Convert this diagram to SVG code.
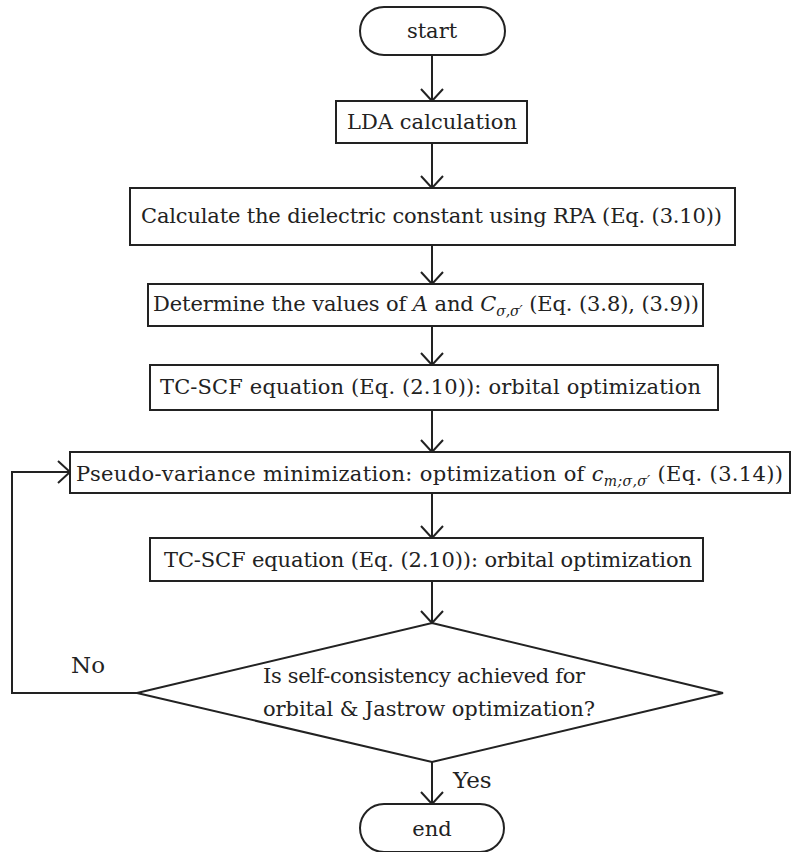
<svg xmlns="http://www.w3.org/2000/svg" width="798" height="852" viewBox="0 0 798 852">
<style>
.box{fill:#fff;stroke:#222;stroke-width:2}
.ln{fill:none;stroke:#222;stroke-width:2}
.t{font-family:"DejaVu Serif","Liberation Serif",serif;font-size:21px;fill:#222}
.lbl{font-size:23px}
.i{font-style:italic}
.s{font-size:14px;font-style:italic}
</style>
<defs>
<marker id="ah" viewBox="-13 -12 15 24" markerWidth="15" markerHeight="24" refX="0" refY="0" orient="auto" markerUnits="userSpaceOnUse">
<path d="M-12,-11 L0,0 L-12,11" fill="none" stroke="#222" stroke-width="2"/>
</marker>
</defs>
<g id="connectors">
<line class="ln" x1="432" y1="55" x2="432" y2="101" marker-end="url(#ah)"/>
<line class="ln" x1="432" y1="143" x2="432" y2="188" marker-end="url(#ah)"/>
<line class="ln" x1="432" y1="245" x2="432" y2="284" marker-end="url(#ah)"/>
<line class="ln" x1="432" y1="326" x2="432" y2="365" marker-end="url(#ah)"/>
<line class="ln" x1="432" y1="410" x2="432" y2="452" marker-end="url(#ah)"/>
<line class="ln" x1="432" y1="493" x2="432" y2="538" marker-end="url(#ah)"/>
<line class="ln" x1="432" y1="581" x2="432" y2="623" marker-end="url(#ah)"/>
<line class="ln" x1="432" y1="762" x2="432" y2="804" marker-end="url(#ah)"/>
<polyline class="ln" points="137,693 12,693 12,472 70,472" marker-end="url(#ah)"/>
<text class="t lbl" x="71" y="673">No</text>
<text class="t lbl" x="453" y="788">Yes</text>
</g>
<g id="start">
<rect class="box" x="360" y="7" width="145" height="48" rx="24"/>
<text class="t" x="432" y="38" text-anchor="middle">start</text>
</g>
<g id="lda">
<rect class="box" x="336" y="101" width="191" height="42"/>
<text class="t" x="347" y="129" textLength="170">LDA calculation</text>
</g>
<g id="calc">
<rect class="box" x="130" y="188" width="605" height="57"/>
<text class="t" x="141" y="223" textLength="581">Calculate the dielectric constant using RPA (Eq. (3.10))</text>
</g>
<g id="determine">
<rect class="box" x="148" y="284" width="555" height="42"/>
<text class="t" x="153" y="311" textLength="546">Determine the values of <tspan class="i">A</tspan> and <tspan class="i">C</tspan><tspan class="s" dy="5">σ,σ′</tspan><tspan dy="-5"> (Eq. (3.8), (3.9))</tspan></text>
</g>
<g id="tcscf1">
<rect class="box" x="150" y="365" width="568" height="45"/>
<text class="t" x="160" y="394" textLength="541">TC-SCF equation (Eq. (2.10)): orbital optimization</text>
</g>
<g id="pseudo">
<rect class="box" x="70" y="452" width="720" height="41"/>
<text class="t" x="76" y="481" textLength="707">Pseudo-variance minimization: optimization of  <tspan class="i">c</tspan><tspan class="s" dy="5">m;σ,σ′</tspan><tspan dy="-5"> (Eq. (3.14))</tspan></text>
</g>
<g id="tcscf2">
<rect class="box" x="150" y="538" width="553" height="43"/>
<text class="t" x="164" y="567" textLength="528">TC-SCF equation (Eq. (2.10)): orbital optimization</text>
</g>
<g id="decision">
<polygon class="box" points="432,623 723,693 432,762 137,693"/>
<text class="t" x="263" y="683" textLength="322">Is self-consistency achieved for</text>
<text class="t" x="263" y="716" textLength="332">orbital &amp; Jastrow optimization?</text>
</g>
<g id="end">
<rect class="box" x="360" y="804" width="144" height="48" rx="24"/>
<text class="t" x="432" y="836" text-anchor="middle">end</text>
</g>
</svg>
